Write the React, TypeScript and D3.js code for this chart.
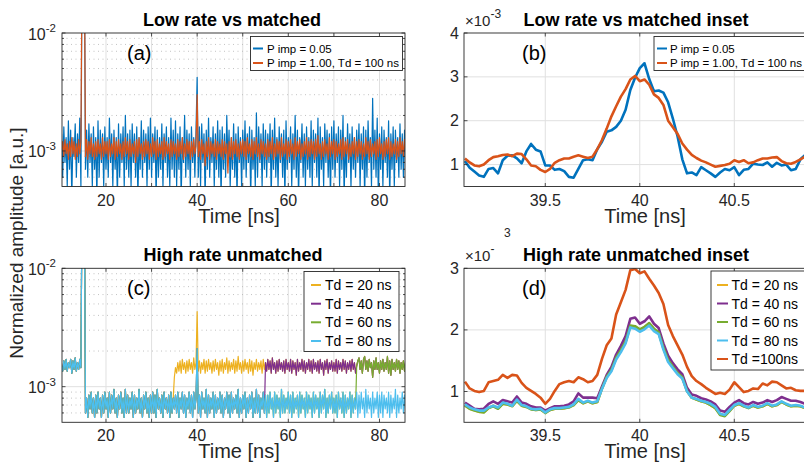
import React from "react";
import * as d3 from "d3";

const FONT = "'Liberation Sans', Arial, Helvetica, sans-serif";
const AXIS = "#262626";
const GRID = "#e0e0e0";
const MINOR_GRID = "#b3b3b3";

const BLUE = "#0072BD";
const ORANGE = "#D95319";
const YELLOW = "#EDB120";
const PURPLE = "#7E2F8E";
const GREEN = "#77AC30";
const CYAN = "#4DBEEE";

// full traces: one sample every 0.25 ns from 10.25 ns, amplitude in units of 1e-4
const wideStart = 10.25;
const wideStep = 0.25;

// (a) P imp = 0.05
const lowRateImp = [
  14, 6, 16, 8, 13, 5, 18, 7, 15, 4, 13, 9, 17, 6, 14, 8, 19, 5, 400, 900,
  500, 7, 15, 6, 17, 8, 14, 5, 16, 7, 13, 4, 18, 6, 15, 8, 14, 5, 16, 7,
  13, 6, 19, 8, 14, 5, 15, 7, 13, 4, 17, 6, 14, 8, 16, 5, 20, 7, 14, 6,
  15, 5, 17, 8, 14, 6, 16, 4, 13, 7, 18, 6, 15, 8, 14, 5, 16, 7, 19, 6,
  14, 8, 16, 4, 15, 6, 13, 7, 17, 5, 14, 8, 16, 6, 13, 5, 19, 7, 15, 6,
  18, 5, 14, 7, 16, 4, 13, 8, 20, 6, 15, 7, 14, 5, 16, 8, 13, 6, 15, 42,
  6, 16, 5, 17, 8, 14, 4, 15, 7, 19, 6, 13, 8, 16, 5, 14, 7, 18, 6, 15,
  4, 16, 7, 14, 6, 20, 8, 15, 5, 13, 7, 17, 6, 14, 4, 16, 8, 13, 5, 15,
  7, 18, 6, 14, 8, 16, 4, 15, 7, 13, 5, 21, 6, 16, 8, 14, 5, 17, 7, 15,
  6, 14, 8, 17, 4, 15, 7, 19, 6, 13, 5, 16, 8, 14, 6, 15, 4, 18, 7, 13,
  8, 16, 5, 14, 7, 20, 6, 15, 4, 13, 8, 17, 6, 14, 5, 16, 7, 13, 6, 18,
  5, 15, 8, 14, 6, 19, 4, 16, 7, 13, 5, 17, 8, 15, 6, 14, 4, 16, 7, 18,
  6, 14, 8, 16, 5, 15, 7, 20, 4, 13, 6, 17, 8, 14, 5, 16, 7, 13, 6, 15,
  8, 17, 5, 14, 7, 16, 4, 15, 6, 18, 8, 13, 5, 28, 7, 15, 6, 19, 4, 14,
  7, 16, 5, 15, 8, 13, 6, 18, 4, 14, 7, 16, 5, 15, 8, 13, 6, 17, 7, 14,
  6, 15, 8,
];

// (a) P imp = 1.00, Td = 100 ns
const lowRateMatched = [
  10, 12, 9, 12.5, 9.5, 11.5, 8.5, 12, 9, 13, 9.5, 12, 8.5, 11.5, 9, 12.5, 9.5, 12, 400, 900,
  500, 9, 12.5, 8.5, 12, 9.5, 13, 9, 11.5, 8.5, 12, 9, 12.5, 9.5, 11.5, 8.5, 13, 9, 12, 9.5,
  12, 8.5, 12.5, 9, 11.5, 9.5, 13, 8.5, 12, 9, 12.5, 9.5, 11.5, 8.5, 12, 9, 13, 9.5, 12, 8.5,
  12.5, 9, 11.5, 9.5, 12, 8, 12.5, 9, 13, 9.5, 11.5, 8.5, 12, 9, 12.5, 9.5, 12, 8.5, 11.5, 9,
  13, 9.5, 12, 8.5, 12.5, 9, 11.5, 9.5, 12, 8.5, 13, 9, 12, 9.5, 11.5, 8.5, 12.5, 9, 12, 9.5,
  11.5, 8.5, 12.5, 9, 12, 9.5, 13, 8.5, 11.5, 9, 12.5, 9.5, 12, 8.5, 12, 9, 12.5, 9.5, 11, 30,
  9, 12, 8.5, 12.5, 9.5, 11.5, 7.5, 12, 9, 13, 8.5, 12, 9.5, 11.5, 9, 12.5, 8.5, 12, 9.5, 11.5,
  9, 12.5, 8.5, 12, 9.5, 11.5, 6.5, 12, 9, 13, 8.5, 12, 9.5, 12.5, 9, 11.5, 8.5, 12, 9.5, 12.5,
  9, 12, 8.5, 13, 9.5, 11.5, 9, 12.5, 8.5, 12, 9.5, 13, 9, 11.5, 8.5, 12.5, 9.5, 12, 9, 11.5,
  8.5, 12.5, 9, 12, 9.5, 13, 8.5, 11.5, 9, 12.5, 9.5, 12, 8.5, 13, 9, 11.5, 9.5, 12.5, 8.5, 12,
  9, 12.5, 9.5, 11.5, 8.5, 13, 9, 12, 9.5, 12.5, 8.5, 11.5, 9, 12, 9.5, 13, 8.5, 12, 9, 12.5,
  9.5, 12, 8.5, 12.5, 9, 13.5, 9.5, 11.5, 8.5, 12, 9, 12.5, 9.5, 11.5, 8.5, 13, 9, 12, 9.5, 12.5,
  8.5, 12, 9, 11.5, 9.5, 12.5, 8.5, 13, 9, 12, 9.5, 12.5, 8.5, 11.5, 9, 12, 9.5, 13, 8.5, 12,
  9, 12.5, 9.5, 12, 8.5, 11.5, 9, 13, 9.5, 12, 8.5, 12.5, 9, 11.5, 9.5, 12, 8.5, 12.5, 9, 13,
  9.5, 11.5, 8.5, 12, 9, 12.5, 9.5, 13, 8.5, 12, 9, 11.5, 9.5, 12.5, 8.5, 12, 9, 13, 9.5, 12,
  9, 12.5, 10,
];

// (c) level before the reflection comes back
const highRateBase = [
  15, 13.5, 16.5, 14, 17, 13.5, 16, 14.5, 17, 13, 16.5, 14, 17.5, 13.5, 16, 14, 17, 14.5, 400, 900,
  500, 6, 8, 5.5, 8.5, 6.5, 9, 6, 8, 5.5, 8.5, 6, 9, 6.5, 8, 5.5, 8.5, 6, 9, 6.5,
  8, 5.5, 9, 6, 8.5, 6.5, 9.5, 6, 8, 5.5, 8.5, 6.5, 9, 6, 8, 5.5, 9.5, 6, 8.5, 6,
  8, 6.5, 9, 5.5, 8.5, 6, 8, 6.5, 9.5, 6, 8, 5.5, 8.5, 6.5, 9, 6, 8, 5.5, 8.5, 6,
  9, 6, 8.5, 5.5, 9.5, 6.5, 8, 6, 8.5, 5.5, 9, 6.5, 8, 6, 8.5, 5.5, 9, 6, 8, 6.5,
  8.5, 6, 9, 5.5, 8, 6.5, 9, 6, 8.5, 5.5, 8, 6.5, 9, 6, 8.5, 5.5, 9, 6.5, 8, 21,
  6, 8.5, 5.5, 9, 6.5, 8, 6, 9.5, 5.5, 8.5, 6, 8, 6.5, 9, 5.5, 8.5, 6, 8, 6.5, 9,
  6, 8.5, 5.5, 8, 6.5, 9, 6, 8.5, 5.5, 9, 6, 8, 6.5, 8.5, 6, 9.5, 5.5, 8, 6, 8.5,
  6.5, 9, 5.5, 8, 6, 8.5, 6.5, 9, 5.5, 8, 6, 9.5, 6, 8.5, 5.5, 8, 6.5, 9, 6, 8.5,
  5.5, 8.5, 6, 9, 6.5, 8, 5.5, 9, 6, 8.5, 6.5, 8, 5.5, 9.5, 6, 8.5, 6, 8, 6.5, 9,
  6, 8.5, 5.5, 9, 6, 8, 6.5, 8.5, 5.5, 9, 6, 8.5, 6.5, 8, 5.5, 9, 6, 8.5, 6.5, 8,
  5.5, 9, 6, 8.5, 6.5, 8, 5.5, 9, 6, 8.5, 6.5, 9.5, 5.5, 8, 6, 8.5, 6.5, 9, 6, 8,
  6, 8.5, 5.5, 9, 6.5, 8, 6, 9, 5.5, 8.5, 6, 8, 6.5, 9, 5.5, 8.5, 6, 8, 6.5, 9,
  5.5, 8.5, 6, 9, 6.5, 8, 5.5, 9.5, 6, 8.5, 6.5, 8, 5.5, 9, 6, 8, 6.5, 9, 5.5, 8.5,
  6, 9, 5.5, 8.5, 6.5, 8, 6, 9, 5.5, 8.5, 6, 8, 6.5, 9.5, 5.5, 8.5, 6, 8, 6.5, 9,
  6, 8.5, 6,
];

// (c) level once the reflection has arrived, samples from 35 ns on
const reflectedStart = 35;
const highRateReflected = [
  12, 14.5, 13, 16, 13.5, 16.5, 13, 17, 14, 16, 13, 16.5, 13.5, 17, 14, 16, 13, 17.5, 14, 16,
  43, 13.5, 16.5, 13, 16, 14, 17, 13, 16.5, 13.5, 17, 14, 16, 13, 16.5, 13.5, 17, 14, 16, 12.5,
  16.5, 13.5, 17, 13, 16, 14, 17.5, 13, 16.5, 13.5, 16, 14, 17, 13, 16.5, 13.5, 18, 14, 16, 13,
  16.5, 13.5, 17, 14, 16, 13, 17, 13.5, 16.5, 12.5, 16, 14, 17, 13.5, 16, 14, 16.5, 13, 17, 14,
  16, 13.5, 17, 14, 16.5, 13, 17.5, 14, 16, 13, 16.5, 13.5, 17, 14, 16, 13.5, 16.5, 13, 17, 14,
  16, 13.5, 17, 13, 16.5, 14, 16, 12.5, 17, 13.5, 16, 14, 17, 13.5, 16.5, 13, 16, 14, 17, 13.5,
  16.5, 13, 17, 14, 16, 13.5, 16.5, 13, 17, 14, 16, 12.5, 16.5, 14, 17, 13, 16, 14, 16.5, 13.5,
  16, 13.5, 17, 13, 16.5, 14, 16, 13.5, 17, 14, 16.5, 13, 16, 14, 16.5, 13.5, 17, 14, 16, 13,
  15, 16.5, 17.5, 14, 16.5, 13, 17, 18, 14, 16.5, 13.5, 17, 14.5, 16, 12, 16.5, 14, 17.5, 14, 16,
  13, 16.5, 14, 17, 13.5, 16, 14, 18, 13, 16.5, 12.5, 17, 14, 16, 13.5, 17, 14, 16.5, 13, 16,
  14, 16.5, 13.5, 16,
];

const tdList = [20, 40, 60, 80];
const tdColors = [YELLOW, PURPLE, GREEN, CYAN];
const pulseTime = 15;

// insets: one sample every 0.025 ns from 39.075 ns, amplitude in units of 1e-3
const insetStart = 39.075;
const insetStep = 0.025;

const insetImp = [
  1.08, 0.93, 0.84, 0.75, 0.72, 0.9, 0.92, 0.8, 1.1, 1.2, 1.21, 1.14, 1.03, 1.3, 1.47, 1.34, 1.3, 0.98, 0.98, 0.88,
  0.9, 0.85, 0.72, 0.7, 0.9, 1.1, 1.12, 1.1, 1.35, 1.52, 1.75, 1.78, 1.86, 2.0, 2.25, 2.7, 2.98, 3.2, 3.31, 2.95,
  2.67, 2.69, 2.64, 2.42, 2.05, 1.64, 1.12, 0.8, 0.82, 0.76, 0.94, 0.87, 0.8, 0.72, 0.82, 0.9, 0.87, 0.94, 0.76, 0.88,
  0.9, 1.02, 1.0, 0.99, 1.05, 0.95, 1.04, 0.98, 1.0, 0.87, 0.9, 1.12, 1.22, 1.25,
];
const insetMatched = [
  1.14, 1.05, 0.98, 0.96, 1.0, 1.1, 1.17, 1.19, 1.22, 1.23, 1.19, 1.25, 1.24, 1.12, 0.98, 0.96, 0.88, 0.83, 0.9, 1.04,
  1.1, 1.14, 1.14, 1.18, 1.21, 1.18, 1.15, 1.18, 1.35, 1.56, 1.82, 2.1, 2.33, 2.55, 2.72, 2.94, 3.02, 2.9, 2.94, 2.82,
  2.6, 2.52, 2.36, 2.0, 1.85, 1.7, 1.48, 1.34, 1.22, 1.15, 1.09, 1.05, 1.0, 0.95, 0.97, 0.99, 1.02, 1.1, 1.06, 1.1,
  1.03, 1.05, 1.1, 1.14, 1.14, 1.16, 1.17, 1.08, 1.03, 1.02, 1.06, 1.12, 1.18, 1.18,
];

const insetTd20 = [
  0.78, 0.72, 0.7, 0.67, 0.67, 0.73, 0.77, 0.73, 0.8, 0.79, 0.77, 0.85, 0.77, 0.75, 0.72, 0.7, 0.71, 0.66, 0.7, 0.72,
  0.72, 0.73, 0.75, 0.78, 0.86, 0.81, 0.84, 0.81, 0.83, 1.05, 1.23, 1.35, 1.54, 1.67, 1.8, 2.06, 2.05, 2.0, 2.04, 2.1,
  2.01, 1.95, 1.7, 1.5, 1.4, 1.3, 1.22, 1.01, 0.9, 0.87, 0.84, 0.82, 0.78, 0.73, 0.63, 0.61, 0.69, 0.77, 0.8, 0.76,
  0.74, 0.77, 0.74, 0.76, 0.8, 0.76, 0.78, 0.83, 0.79, 0.76, 0.77, 0.76, 0.73, 0.73,
];
const insetTd40 = [
  0.82, 0.77, 0.72, 0.71, 0.72, 0.8, 0.84, 0.8, 0.86, 0.84, 0.82, 0.92, 0.82, 0.8, 0.76, 0.74, 0.74, 0.69, 0.73, 0.76,
  0.76, 0.77, 0.79, 0.84, 0.97, 0.9, 0.9, 0.9, 0.89, 1.08, 1.27, 1.4, 1.6, 1.74, 1.9, 2.18, 2.2, 2.1, 2.14, 2.22,
  2.1, 2.03, 1.78, 1.58, 1.46, 1.36, 1.28, 1.06, 0.95, 0.93, 0.89, 0.87, 0.84, 0.79, 0.69, 0.67, 0.75, 0.82, 0.86, 0.81,
  0.79, 0.83, 0.8, 0.82, 0.86, 0.83, 0.86, 0.91, 0.88, 0.85, 0.85, 0.83, 0.8, 0.79,
];
const insetTd60 = [
  0.77, 0.72, 0.69, 0.67, 0.66, 0.73, 0.76, 0.72, 0.8, 0.79, 0.76, 0.85, 0.77, 0.75, 0.71, 0.7, 0.71, 0.65, 0.7, 0.72,
  0.72, 0.73, 0.74, 0.78, 0.86, 0.81, 0.84, 0.81, 0.83, 1.05, 1.24, 1.35, 1.55, 1.67, 1.81, 2.07, 2.06, 2.01, 2.05, 2.11,
  2.02, 1.96, 1.71, 1.51, 1.4, 1.3, 1.23, 1.01, 0.9, 0.87, 0.84, 0.82, 0.78, 0.73, 0.62, 0.6, 0.68, 0.77, 0.8, 0.76,
  0.73, 0.77, 0.74, 0.76, 0.8, 0.76, 0.78, 0.83, 0.79, 0.76, 0.77, 0.76, 0.73, 0.73,
];
const insetTd80 = [
  0.79, 0.74, 0.71, 0.69, 0.69, 0.74, 0.77, 0.74, 0.82, 0.8, 0.77, 0.87, 0.78, 0.76, 0.72, 0.71, 0.72, 0.66, 0.71, 0.73,
  0.73, 0.74, 0.75, 0.79, 0.88, 0.82, 0.85, 0.82, 0.84, 1.04, 1.22, 1.33, 1.52, 1.64, 1.78, 2.04, 2.02, 1.97, 2.01, 2.07,
  1.98, 1.93, 1.68, 1.48, 1.38, 1.28, 1.21, 1.0, 0.9, 0.88, 0.85, 0.83, 0.8, 0.75, 0.64, 0.62, 0.7, 0.78, 0.81, 0.77,
  0.74, 0.78, 0.75, 0.77, 0.81, 0.77, 0.79, 0.84, 0.8, 0.77, 0.78, 0.77, 0.74, 0.74,
];
const insetTd100 = [
  1.16, 1.05, 1.01, 0.99, 1.01, 1.15, 1.17, 1.19, 1.27, 1.22, 1.27, 1.26, 1.14, 1.06, 1.01, 0.96, 0.9, 0.8, 0.88, 1.01,
  1.12, 1.15, 1.17, 1.15, 1.23, 1.2, 1.15, 1.17, 1.27, 1.53, 1.75, 1.86, 2.25, 2.45, 2.65, 2.97, 2.99, 2.92, 2.95, 2.83,
  2.72, 2.6, 2.42, 2.08, 1.9, 1.75, 1.6, 1.4, 1.25, 1.17, 1.12, 1.06, 1.01, 0.96, 0.98, 0.96, 1.03, 1.15, 1.07, 0.99,
  1.01, 1.05, 1.04, 1.13, 1.1, 1.16, 1.15, 1.1, 1.05, 1.06, 1.02, 1.01, 1.01, 1.0,
];

const wideXTicks = [20, 40, 60, 80];
const wideXGrid = [20, 30, 40, 50, 60, 70, 80];
const logMajor = [1e-3, 1e-2];
const logMinor = [6e-4, 7e-4, 8e-4, 9e-4, 2e-3, 3e-3, 4e-3, 5e-3, 6e-3, 7e-3, 8e-3, 9e-3];
const insetXTicks = [39.5, 40, 40.5];
const insetXLabels = ["39.5", "40", "40.5"];
const insetBTicks = [1, 2, 3, 4];
const insetDTicks = [1, 2, 3];

// scales
const wideX = d3.scaleLinear().domain([10.35, 85.6]).range([62, 405]);
const insetX = d3.scaleLinear().domain([39.07, 40.89]).range([464, 808]);
const yA = d3.scaleLog().domain([5e-4, 1e-2]).range([186.5, 33]);
const yC = d3.scaleLog().domain([5e-4, 1e-2]).range([422.3, 268.3]);
const yB = d3.scaleLinear().domain([0.5, 4]).range([186.5, 33]);
const yD = d3.scaleLinear().domain([0.5, 3]).range([422.3, 268.3]);

const wideT = (i: number) => wideStart + i * wideStep;
const insetT = (i: number) => insetStart + i * insetStep;

function widePath(values: number[], y: any) {
  const line = d3
    .line<number>()
    .x((_, i) => wideX(wideT(i)))
    .y((v) => y(v * 1e-4));
  return line(values) || "";
}

function insetPath(values: number[], y: any) {
  const line = d3
    .line<number>()
    .x((_, i) => insetX(insetT(i)))
    .y((v) => y(v));
  return line(values) || "";
}

// a trace of panel (c) sits on the base level until its reflection (pulse + Td) comes back
function unmatchedTrace(td: number) {
  const onset = pulseTime + td;
  return highRateBase.map((v, i) => {
    const t = wideT(i);
    if (t >= onset && t >= reflectedStart) {
      return highRateReflected[Math.round((t - reflectedStart) / wideStep)];
    }
    return v;
  });
}

function Clip({ x, y, id }: { x: any; y: any; id: string }) {
  const [x0, x1] = x.range();
  const [y1, y0] = y.range();
  return (
    <clipPath id={id}>
      <rect x={x0} y={y0} width={x1 - x0} height={y1 - y0} />
    </clipPath>
  );
}

function Box({ x, y }: { x: any; y: any }) {
  const [x0, x1] = x.range();
  const [y1, y0] = y.range();
  return (
    <rect x={x0} y={y0} width={x1 - x0} height={y1 - y0} fill="none" stroke={AXIS} strokeWidth={0.9} />
  );
}

function WideGrid({ y }: { y: any }) {
  const [x0, x1] = wideX.range();
  const [y1, y0] = y.range();
  return (
    <g>
      {wideXGrid.map((t) => (
        <line key={"g" + t} x1={wideX(t)} x2={wideX(t)} y1={y0} y2={y1} stroke={GRID} strokeWidth={1} />
      ))}
      {logMinor.map((v) => (
        <line key={"m" + v} x1={x0} x2={x1} y1={y(v)} y2={y(v)} stroke={MINOR_GRID} strokeWidth={0.8} strokeDasharray="1,3.5" />
      ))}
      <line x1={x0} x2={x1} y1={y(1e-3)} y2={y(1e-3)} stroke={GRID} strokeWidth={1} />
    </g>
  );
}

function WideTicks({ y }: { y: any }) {
  const [x0, x1] = wideX.range();
  const [y1, y0] = y.range();
  return (
    <g fontFamily={FONT} fill={AXIS}>
      {wideXGrid.map((t) => (
        <g key={"t" + t}>
          <line x1={wideX(t)} x2={wideX(t)} y1={y1} y2={y1 - 3.5} stroke={AXIS} strokeWidth={0.8} />
          <line x1={wideX(t)} x2={wideX(t)} y1={y0} y2={y0 + 3.5} stroke={AXIS} strokeWidth={0.8} />
        </g>
      ))}
      {wideXTicks.map((t) => (
        <text key={"l" + t} x={wideX(t)} y={y1 + 19} textAnchor="middle" fontSize={16}>
          {t}
        </text>
      ))}
      {logMinor.map((v) => (
        <g key={"mt" + v}>
          <line x1={x0} x2={x0 + 2} y1={y(v)} y2={y(v)} stroke={AXIS} strokeWidth={0.8} />
          <line x1={x1} x2={x1 - 2} y1={y(v)} y2={y(v)} stroke={AXIS} strokeWidth={0.8} />
        </g>
      ))}
      {logMajor.map((v) => (
        <g key={"Mt" + v}>
          <line x1={x0} x2={x0 + 3.5} y1={y(v)} y2={y(v)} stroke={AXIS} strokeWidth={0.8} />
          <line x1={x1} x2={x1 - 3.5} y1={y(v)} y2={y(v)} stroke={AXIS} strokeWidth={0.8} />
          <text x={56} y={y(v) + 6.5} textAnchor="end" fontSize={16}>
            10
            <tspan dy={-7.5} fontSize={11.5}>
              {"-" + Math.round(-Math.log10(v))}
            </tspan>
          </text>
        </g>
      ))}
    </g>
  );
}

function InsetGrid({ y, ticks }: { y: any; ticks: number[] }) {
  const [x0, x1] = insetX.range();
  const [y1, y0] = y.range();
  return (
    <g>
      {insetXTicks.map((t) => (
        <line key={"g" + t} x1={insetX(t)} x2={insetX(t)} y1={y0} y2={y1} stroke={GRID} strokeWidth={1} />
      ))}
      {ticks
        .filter((v) => y(v) > y0 + 1)
        .map((v) => (
          <line key={"h" + v} x1={x0} x2={x1} y1={y(v)} y2={y(v)} stroke={GRID} strokeWidth={1} />
        ))}
    </g>
  );
}

function InsetTicks({ y, ticks }: { y: any; ticks: number[] }) {
  const [x0] = insetX.range();
  const [y1, y0] = y.range();
  return (
    <g fontFamily={FONT} fill={AXIS}>
      {insetXTicks.map((t, i) => (
        <g key={"t" + t}>
          <line x1={insetX(t)} x2={insetX(t)} y1={y1} y2={y1 - 3.5} stroke={AXIS} strokeWidth={0.8} />
          <line x1={insetX(t)} x2={insetX(t)} y1={y0} y2={y0 + 3.5} stroke={AXIS} strokeWidth={0.8} />
          <text x={insetX(t)} y={y1 + 19} textAnchor="middle" fontSize={16}>
            {insetXLabels[i]}
          </text>
        </g>
      ))}
      {ticks.map((v) => (
        <g key={"y" + v}>
          <line x1={x0} x2={x0 + 3.5} y1={y(v)} y2={y(v)} stroke={AXIS} strokeWidth={0.8} />
          <text x={459} y={y(v) + 5.5} textAnchor="end" fontSize={16}>
            {v}
          </text>
        </g>
      ))}
    </g>
  );
}

function Legend(props: {
  x: number;
  y: number;
  w: number;
  h: number;
  rows: number[];
  labels: string[];
  colors: string[];
  fontSize: number;
  lineX: number;
  lineLen: number;
  textX: number;
}) {
  const { x, y, w, h, rows, labels, colors, fontSize, lineX, lineLen, textX } = props;
  return (
    <g fontFamily={FONT}>
      <rect x={x} y={y} width={w} height={h} fill="#fff" stroke={AXIS} strokeWidth={0.9} />
      {labels.map((s, i) => (
        <g key={s}>
          <line x1={lineX} x2={lineX + lineLen} y1={rows[i]} y2={rows[i]} stroke={colors[i]} strokeWidth={2} />
          <text x={textX} y={rows[i] + fontSize * 0.36} fontSize={fontSize} fill="#000">
            {s}
          </text>
        </g>
      ))}
    </g>
  );
}

export default function App() {
  const unmatched = tdList.map((td) => unmatchedTrace(td));
  const insetD = [insetTd20, insetTd40, insetTd60, insetTd80];

  return (
    <div style={{ position: "absolute", left: 0, top: 0 }}>
      <svg width={804} height={470} viewBox="0 0 804 470" style={{ display: "block", background: "#fff" }}>
        <defs>
          <Clip x={wideX} y={yA} id="clipA" />
          <Clip x={insetX} y={yB} id="clipB" />
          <Clip x={wideX} y={yC} id="clipC" />
          <Clip x={insetX} y={yD} id="clipD" />
        </defs>
        <rect x={0} y={0} width={804} height={470} fill="#fff" />

        {/* (a) */}
        <WideGrid y={yA} />
        <g clipPath="url(#clipA)" fill="none" strokeLinejoin="round">
          <path d={widePath(lowRateImp, yA)} stroke={BLUE} strokeWidth={1.2} />
          <path d={widePath(lowRateMatched, yA)} stroke={ORANGE} strokeWidth={1.2} />
        </g>
        <WideTicks y={yA} />
        <Box x={wideX} y={yA} />

        {/* (b) */}
        <InsetGrid y={yB} ticks={insetBTicks} />
        <g clipPath="url(#clipB)" fill="none" strokeLinejoin="round">
          <path d={insetPath(insetImp, yB)} stroke={BLUE} strokeWidth={2.6} />
          <path d={insetPath(insetMatched, yB)} stroke={ORANGE} strokeWidth={2.6} />
        </g>
        <InsetTicks y={yB} ticks={insetBTicks} />
        <Box x={insetX} y={yB} />

        {/* (c) */}
        <WideGrid y={yC} />
        <g clipPath="url(#clipC)" fill="none" strokeLinejoin="round">
          {unmatched.map((vals, i) => (
            <path key={i} d={widePath(vals, yC)} stroke={tdColors[i]} strokeWidth={1.2} />
          ))}
        </g>
        <WideTicks y={yC} />
        <Box x={wideX} y={yC} />

        {/* (d) */}
        <InsetGrid y={yD} ticks={insetDTicks} />
        <g clipPath="url(#clipD)" fill="none" strokeLinejoin="round">
          {insetD.map((vals, i) => (
            <path key={i} d={insetPath(vals, yD)} stroke={tdColors[i]} strokeWidth={2.6} />
          ))}
          <path d={insetPath(insetTd100, yD)} stroke={ORANGE} strokeWidth={2.6} />
        </g>
        <InsetTicks y={yD} ticks={insetDTicks} />
        <Box x={insetX} y={yD} />

        {/* titles */}
        <g fontFamily={FONT} fontWeight="bold" fontSize={18} textAnchor="middle" fill="#000">
          <text x={232} y={26}>Low rate vs matched</text>
          <text x={636} y={26}>Low rate vs matched inset</text>
          <text x={233} y={261}>High rate unmatched</text>
          <text x={636} y={261}>High rate unmatched inset</text>
        </g>

        {/* axis labels */}
        <g fontFamily={FONT} fill={AXIS} textAnchor="middle">
          <text x={239} y={223} fontSize={20}>Time [ns]</text>
          <text x={645} y={223} fontSize={20}>Time [ns]</text>
          <text x={239} y={458} fontSize={20}>Time [ns]</text>
          <text x={645} y={458} fontSize={20}>Time [ns]</text>
          <text transform="translate(23,243) rotate(-90)" fontSize={19}>
            Normalized amplitude [a.u.]
          </text>
        </g>

        {/* exponent labels of the insets */}
        <g fontFamily={FONT} fill={AXIS}>
          <text x={465} y={26} fontSize={15}>
            ×10
            <tspan dy={-8} fontSize={12}>-3</tspan>
          </text>
          <text x={465} y={261} fontSize={15}>
            ×10
            <tspan dy={-8} fontSize={12}>-</tspan>
          </text>
          <text x={504} y={237} fontSize={12}>3</text>
        </g>

        {/* panel tags */}
        <g fontFamily={FONT} fontSize={20} fill="#000">
          <text x={127} y={60}>(a)</text>
          <text x={522} y={60}>(b)</text>
          <text x={127} y={295}>(c)</text>
          <text x={522} y={295}>(d)</text>
        </g>

        <Legend
          x={250.5}
          y={36.5}
          w={152}
          h={34}
          rows={[48.5, 63]}
          labels={["P imp = 0.05", "P imp = 1.00, Td = 100 ns"]}
          colors={[BLUE, ORANGE]}
          fontSize={11.5}
          lineX={253}
          lineLen={10}
          textX={267}
        />
        <Legend
          x={654}
          y={36.5}
          w={160}
          h={34}
          rows={[48.5, 63]}
          labels={["P imp = 0.05", "P imp = 1.00, Td = 100 ns"]}
          colors={[BLUE, ORANGE]}
          fontSize={11.5}
          lineX={657}
          lineLen={10}
          textX={670}
        />
        <Legend
          x={304}
          y={271.5}
          w={95}
          h={80}
          rows={[285, 303.7, 322.3, 341]}
          labels={tdList.map((td) => `Td = ${td} ns`)}
          colors={tdColors}
          fontSize={14}
          lineX={311}
          lineLen={10}
          textX={325}
        />
        <Legend
          x={711}
          y={271}
          w={100}
          h={99}
          rows={[285, 303.5, 322, 340.5, 359]}
          labels={[...tdList.map((td) => `Td = ${td} ns`), "Td =100ns"]}
          colors={[...tdColors, ORANGE]}
          fontSize={14}
          lineX={717}
          lineLen={11}
          textX={731.5}
        />
      </svg>
    </div>
  );
}
